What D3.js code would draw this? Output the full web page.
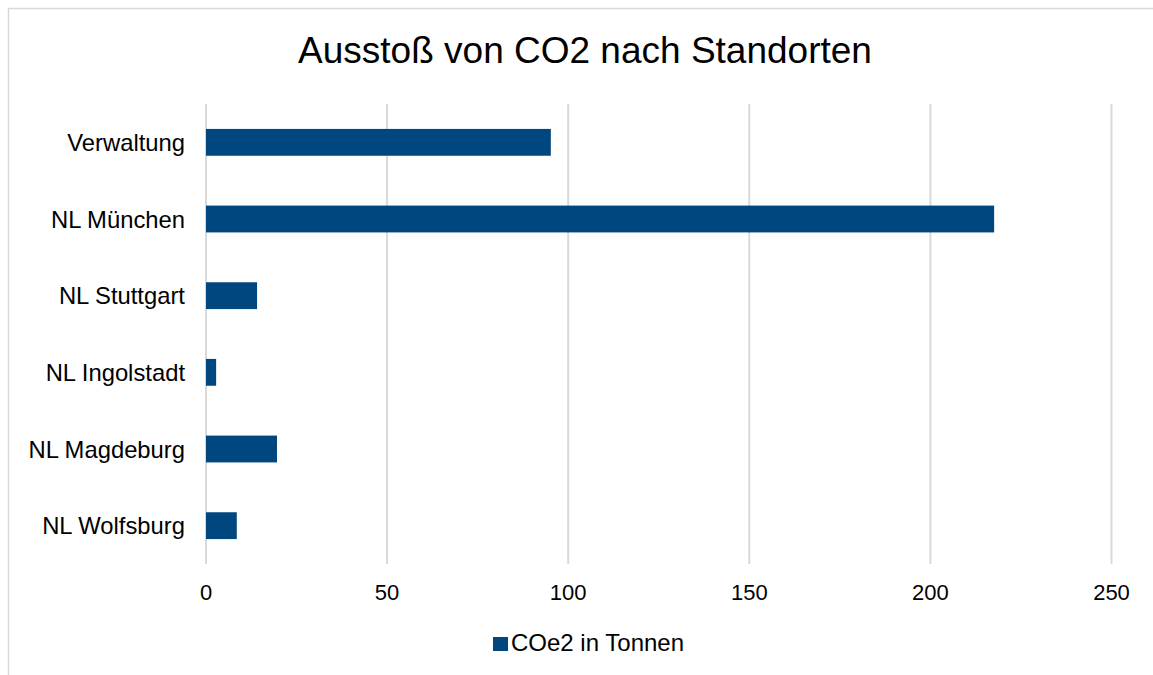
<!DOCTYPE html>
<html>
<head>
<meta charset="utf-8">
<script src="https://cdn.jsdelivr.net/npm/d3@7"></script>
<style>
  html, body { margin: 0; padding: 0; background: #fff; }
  svg { display: block; font-family: "Liberation Sans", Arial, sans-serif; }
</style>
</head>
<body>
<script>
const categories = ["Verwaltung", "NL München", "NL Stuttgart", "NL Ingolstadt", "NL Magdeburg", "NL Wolfsburg"];
const values = [95.2, 217.6, 14.1, 2.8, 19.6, 8.5];
const xTicks = [0, 50, 100, 150, 200, 250];
const seriesName = "COe2 in Tonnen";
const title = "Ausstoß von CO2 nach Standorten";

const W = 1153, H = 675;
const color = "#00477F";

const svg = d3.select("body").append("svg").attr("width", W).attr("height", H);

// outer chart border (extends past right/bottom edges)
svg.append("rect")
  .attr("x", 8.5).attr("y", 8.5)
  .attr("width", W + 20).attr("height", H + 20)
  .attr("fill", "none").attr("stroke", "#d9d9d9").attr("stroke-width", 1.5);

const x = d3.scaleLinear().domain([0, 250]).range([206, 1111.5]);
const y = d3.scaleBand().domain(categories).range([104, 564]).padding(0);

// gridlines
svg.append("g").selectAll("line").data(xTicks).join("line")
  .attr("x1", d => x(d)).attr("x2", d => x(d))
  .attr("y1", 104).attr("y2", 564)
  .attr("stroke", "#d9d9d9").attr("stroke-width", 2);

// bars
const barH = y.bandwidth() * 0.35;
svg.append("g").selectAll("rect").data(values).join("rect")
  .attr("x", x(0))
  .attr("y", (d, i) => y(categories[i]) + y.bandwidth() / 2 - barH / 2)
  .attr("width", d => x(d) - x(0))
  .attr("height", barH)
  .attr("fill", color);

// category labels
svg.append("g").selectAll("text").data(categories).join("text")
  .attr("x", 185)
  .attr("y", d => y(d) + y.bandwidth() / 2 + 8.5)
  .attr("text-anchor", "end")
  .attr("font-size", 23.8)
  .attr("fill", "#000")
  .text(d => d);

// x tick labels
svg.append("g").selectAll("text").data(xTicks).join("text")
  .attr("x", d => x(d))
  .attr("y", 600)
  .attr("text-anchor", "middle")
  .attr("font-size", 22)
  .attr("fill", "#000")
  .text(d => d3.format("d")(d));

// title
svg.append("text")
  .attr("x", 585).attr("y", 63)
  .attr("text-anchor", "middle")
  .attr("font-size", 37)
  .attr("fill", "#000")
  .text(title);

// legend
const lg = svg.append("g");
lg.append("rect").attr("x", 493).attr("y", 637).attr("width", 15).attr("height", 14).attr("fill", color);
lg.append("text").attr("x", 511).attr("y", 651)
  .attr("font-size", 24)
  .attr("fill", "#000")
  .text(seriesName);
</script>
</body>
</html>
